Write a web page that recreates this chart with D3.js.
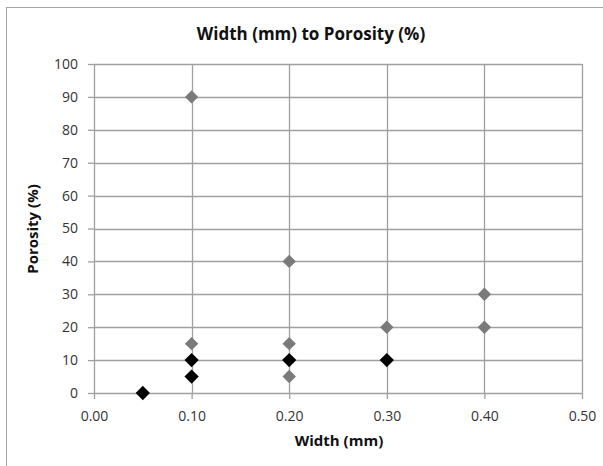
<!DOCTYPE html>
<html>
<head>
<meta charset="utf-8">
<script src="https://cdn.jsdelivr.net/npm/d3@7"></script>
<style>
  body { margin: 0; background: #fff; }
  text { font-family: "Open Sans", "Liberation Sans", sans-serif; fill: #333; }
</style>
</head>
<body>
<script>
// données
const grayWidth = [0.10, 0.10, 0.20, 0.20, 0.20, 0.30, 0.40, 0.40];
const grayPorosity = [90, 15, 40, 15, 5, 20, 30, 20];
const blackWidth = [0.05, 0.10, 0.10, 0.20, 0.30];
const blackPorosity = [0, 10, 5, 10, 10];
const xTicks = [0, 0.1, 0.2, 0.3, 0.4, 0.5];
const yTicks = [0, 10, 20, 30, 40, 50, 60, 70, 80, 90, 100];

const W = 603, H = 466;
const margin = { top: 64, right: 21, bottom: 73, left: 94 };
const width = W - margin.left - margin.right,
      height = H - margin.top - margin.bottom;

const svg = d3.select("body").append("svg")
    .attr("width", W)
    .attr("height", H);

// cadre extérieur
svg.append("rect")
    .attr("x", 6.5).attr("y", 7.5)
    .attr("width", 620).attr("height", 480)
    .attr("fill", "none")
    .attr("stroke", "#a6a6a6");

svg.append("text")
    .text("Width (mm) to Porosity (%)")
    .attr("x", 311).attr("y", 40)
    .attr("text-anchor", "middle")
    .style("font-size", "17px").style("font-weight", "bold")
    .style("fill", "#111");

const g = svg.append("g")
    .attr("transform", "translate(" + margin.left + "," + margin.top + ")");

let x = d3.scaleLinear().domain([0, 0.5]).range([0, width]);
let y = d3.scaleLinear().domain([0, 100]).range([height, 0]);

// grille
g.selectAll(".hgrid").data(yTicks).enter().append("line")
    .attr("x1", 0).attr("x2", width)
    .attr("y1", d => Math.round(y(d)) + 0.5).attr("y2", d => Math.round(y(d)) + 0.5)
    .attr("stroke", "#a0a0a0").attr("stroke-width", 1.3);
g.selectAll(".vgrid").data(xTicks).enter().append("line")
    .attr("x1", d => Math.round(x(d)) + 0.5).attr("x2", d => Math.round(x(d)) + 0.5)
    .attr("y1", 0).attr("y2", height)
    .attr("stroke", "#a0a0a0").attr("stroke-width", 1.3);

// axes
const yAxis = g.append("g")
    .call(d3.axisLeft(y).tickValues(yTicks).tickSize(6).tickPadding(10));
const xAxis = g.append("g")
    .attr("transform", "translate(0," + height + ")")
    .call(d3.axisBottom(x).tickValues(xTicks).tickFormat(d3.format(".2f")).tickSize(6).tickPadding(12));

[xAxis, yAxis].forEach(a => {
    a.select(".domain").remove();
    a.selectAll("line").attr("stroke", "#a0a0a0").attr("stroke-width", 1.3);
    a.selectAll("text").style("font-size", "14px").style("fill", "#333")
        .style("font-family", "'Open Sans', sans-serif");
});

svg.append("text")
    .text("Width (mm)")
    .attr("x", 339).attr("y", 446)
    .attr("text-anchor", "middle")
    .style("font-size", "15px").style("font-weight", "bold").style("fill", "#111");

svg.append("text")
    .text("Porosity (%)")
    .attr("transform", "translate(38," + 229 + ") rotate(-90)")
    .attr("text-anchor", "middle")
    .style("font-size", "15px").style("font-weight", "bold").style("fill", "#111");

// points
const diamond = d3.symbol().type(d3.symbolDiamond2);

g.selectAll(".gray").data(grayWidth).enter().append("path")
    .attr("d", diamond.size(115)())
    .attr("transform", (d, i) => "translate(" + x(d) + "," + y(grayPorosity[i]) + ")")
    .attr("fill", "#7a7a7a");

g.selectAll(".black").data(blackWidth).enter().append("path")
    .attr("d", diamond.size(130)())
    .attr("transform", (d, i) => "translate(" + x(d) + "," + y(blackPorosity[i]) + ")")
    .attr("fill", "#000");
</script>
</body>
</html>
